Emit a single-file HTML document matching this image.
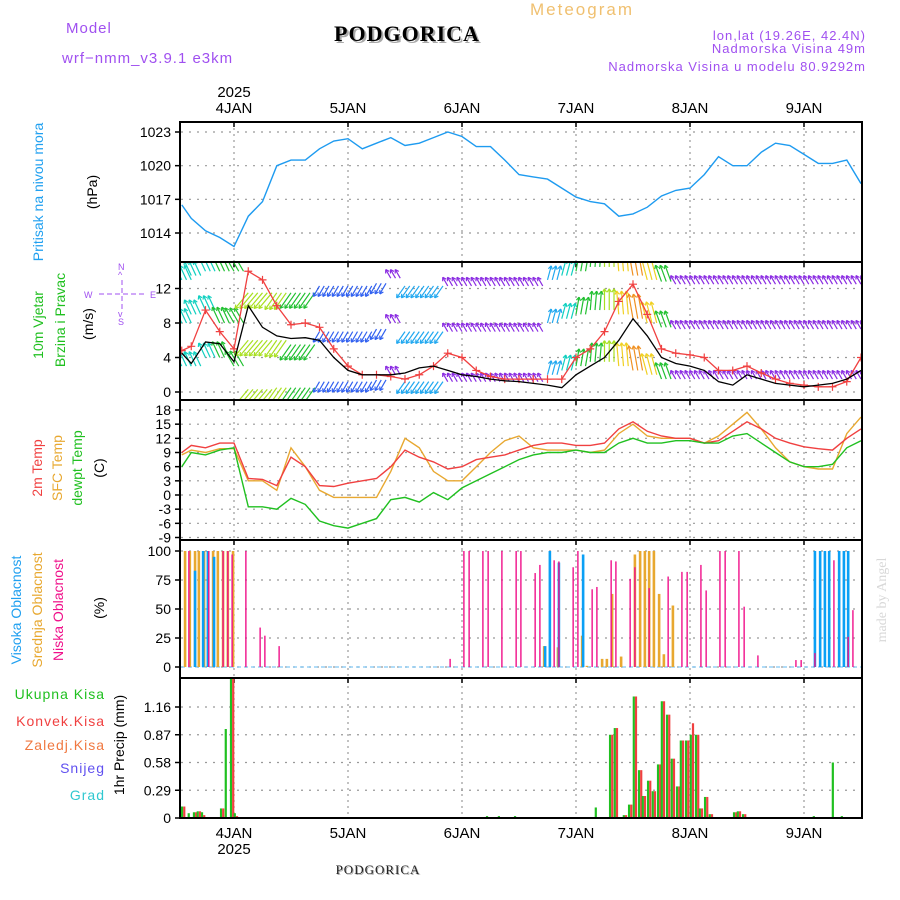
<!DOCTYPE html>
<html><head><meta charset="utf-8"><style>
html,body{margin:0;padding:0;background:#fff}
svg{display:block;font-family:"Liberation Sans",sans-serif}
</style></head><body>
<svg id="chart" width="900" height="900" viewBox="0 0 900 900">
<defs>
<clipPath id="cp1"><rect x="181" y="123" width="681" height="138"/></clipPath>
<clipPath id="cp2"><rect x="181" y="263" width="681" height="136"/></clipPath>
<clipPath id="cp3"><rect x="181" y="401" width="681" height="138"/></clipPath>
<clipPath id="cp4"><rect x="181" y="541" width="681" height="136"/></clipPath>
<clipPath id="cp5"><rect x="181" y="679" width="681" height="138"/></clipPath>
</defs>
<text x="66" y="33" font-size="15" fill="#a050f0" letter-spacing="1">Model</text>
<text x="62" y="63" font-size="15" fill="#a050f0" letter-spacing="1">wrf−nmm_v3.9.1  e3km</text>
<text x="409" y="43" font-size="22" font-weight="bold" font-family="Liberation Serif,serif" fill="#aaa" text-anchor="middle" letter-spacing="1">PODGORICA</text>
<text x="407" y="41" font-size="22" font-weight="bold" font-family="Liberation Serif,serif" fill="#000" text-anchor="middle" letter-spacing="1">PODGORICA</text>
<text x="582" y="15" font-size="17" fill="#f0c070" text-anchor="middle" letter-spacing="2">Meteogram</text>
<text x="866" y="40" font-size="13" fill="#a050f0" text-anchor="end" letter-spacing="1">lon,lat (19.26E, 42.4N)</text>
<text x="866" y="53" font-size="13" fill="#a050f0" text-anchor="end" letter-spacing="1">Nadmorska Visina 49m</text>
<text x="866" y="71" font-size="13" fill="#a050f0" text-anchor="end" letter-spacing="1">Nadmorska Visina u modelu 80.9292m</text>
<text x="234" y="97" font-size="15" fill="#000" text-anchor="middle">2025</text>
<text x="234" y="854" font-size="15" fill="#000" text-anchor="middle">2025</text>
<text x="379" y="875" font-size="13" font-family="Liberation Serif,serif" fill="#aaa" text-anchor="middle" letter-spacing="1">PODGORICA</text>
<text x="378" y="874" font-size="13" font-family="Liberation Serif,serif" fill="#222" text-anchor="middle" letter-spacing="1">PODGORICA</text>
<text transform="translate(886,600) rotate(-90)" font-size="14" font-family="Liberation Serif,serif" fill="#d8d8d8" text-anchor="middle">made by Angel</text>

<g font-size="14" text-anchor="middle">
<text transform="translate(43,192) rotate(-90)" fill="#20a0f0">Pritisak na nivou mora</text>
<text transform="translate(97,192) rotate(-90)" fill="#000">(hPa)</text>
<text transform="translate(43,325) rotate(-90)" fill="#20c020">10m Vjetar</text>
<text transform="translate(65,320) rotate(-90)" fill="#20c020">Brzina i Pravac</text>
<text transform="translate(93,324) rotate(-90)" fill="#000">(m/s)</text>
<text transform="translate(42,468) rotate(-90)" fill="#f04040">2m Temp</text>
<text transform="translate(62,468) rotate(-90)" fill="#e8a830">SFC Temp</text>
<text transform="translate(82,468) rotate(-90)" fill="#20c020">dewpt Temp</text>
<text transform="translate(104,468) rotate(-90)" fill="#000">(C)</text>
<text transform="translate(21,610) rotate(-90)" fill="#20a0f0">Visoka Oblacnost</text>
<text transform="translate(42,610) rotate(-90)" fill="#e8a830">Srednja Oblacnost</text>
<text transform="translate(63,610) rotate(-90)" fill="#f0108a">Niska Oblacnost</text>
<text transform="translate(104,608) rotate(-90)" fill="#000">(%)</text>
<text transform="translate(124,745) rotate(-90)" fill="#000">1hr Precip (mm)</text>
</g>
<g font-size="14" text-anchor="end" letter-spacing="1">
<text x="105" y="699" fill="#20c020">Ukupna  Kisa</text>
<text x="105" y="726" fill="#f04040">Konvek.Kisa</text>
<text x="105" y="750" fill="#f07840">Zaledj.Kisa</text>
<text x="105" y="773" fill="#6050f0">Snijeg</text>
<text x="105" y="800" fill="#30c8d0">Grad</text>
</g>
<g fill="#a050f0" font-size="9">
<text x="118" y="270">N</text><text x="118" y="278">^</text><text x="118" y="325">S</text><text x="118" y="317">v</text>
<text x="84" y="298">W</text><text x="150" y="298">E</text>
<line x1="99" y1="294" x2="145" y2="294" stroke="#a050f0" stroke-dasharray="5,3"/>
<line x1="122" y1="280" x2="122" y2="310" stroke="#a050f0" stroke-dasharray="5,3"/>
</g>
<g id="plots"></g>
</svg>
<script>
// ---- data (hours relative to 4 JAN 00 UTC) ----
var dayLabels = ["4JAN","5JAN","6JAN","7JAN","8JAN","9JAN"];
var dayHours = [0,24,48,72,96,120];
var hours = [-11,-9,-6,-3,0,3,6,9,12,15,18,21,24,27,30,33,36,39,42,45,48,51,54,57,60,63,66,69,72,75,78,81,84,87,90,93,96,99,102,105,108,111,114,117,120,123,126,129,132];
var pressure = [1016.5,1015.3,1014.2,1013.6,1012.8,1015.5,1016.8,1020,1020.5,1020.5,1021.5,1022.2,1022.4,1021.5,1022,1022.5,1021.8,1022,1022.5,1023,1022.6,1021.7,1021.7,1020.5,1019.2,1019,1018.8,1018,1017.2,1016.8,1016.6,1015.5,1015.7,1016.3,1017.3,1017.8,1018,1019.2,1020.8,1020,1020,1021.2,1022,1021.8,1021,1020.2,1020.2,1020.5,1018.4];
var pressTicks = [1014,1017,1020,1023];
var windSpeed = [4.5,3.3,5.8,5.6,3.5,10,7.5,6.5,6.2,6.3,6,4,2.5,2,2,2,2.2,2.8,3,2.5,2,1.8,1.5,1.3,1.2,1,0.8,0.5,2,3,4,6,8.5,6.5,4,3.3,3,2.5,1.2,0.8,2,1.5,1,0.8,0.6,0.8,1,1.5,2.5];
var windGust = [4.8,5.3,9.5,7,5,14,13,10,7.8,8,7.5,5,3,2,2,1.8,1.5,2,3,4.5,4,2.5,1.8,1.5,1.5,1.5,1.5,1.5,4,5,7,10.5,12.5,9,5,4.5,4.3,4,2.5,2.5,3,2.2,1.5,1,0.8,0.6,0.6,1.2,4];
var barbDir = [-25,-25,-25,-25,-30,220,220,215,215,215,210,210,210,210,210,330,215,215,215,330,330,330,330,330,330,330,15,15,10,5,0,-5,-10,-15,-20,330,330,330,330,330,330,330,330,330,330,330,330,330,330];
var barbSpeed = [6,6,6,7,7,9,9,9,8,8,3.5,3.5,3.5,3.5,3.5,2,5,5,5,2,2,2,2,2,2,2,5,6,7,8,9.5,11,12,10,7,2,2,2,2,2,2,2,2,2,2,2,2,2,2];
var rowHigh = [13,13.5,14,14,14,11.5,11.5,11.5,11.5,11.5,12.3,12.3,12.3,12.3,12.6,13.2,12.3,12.3,12.3,12.3,12.3,12.3,12.3,12.3,12.3,12.3,13,13.5,14,14.5,14.5,14,13.5,13,12.8,12.5,12.5,12.5,12.5,12.5,12.5,12.5,12.5,12.5,12.5,12.5,12.5,12.5,12.5];
var rowMid = [8,9,9.5,8,8,6,6,6,5.5,5.5,7,7,7,7,7.3,8,7,7,7,7,7,7,7,7,7,7,8,8.5,9,9.5,9.5,9,8.5,8,7.5,7.3,7.3,7.3,7.3,7.3,7.3,7.3,7.3,7.3,7.3,7.3,7.3,7.3,7.3];
var rowLow = [3,3,4,4,3,0.3,0.3,0.5,0.5,0.5,1.2,1.2,1.2,1.2,1.4,2,1.2,1.2,1.2,1.2,1.2,1.2,1.2,1.2,1.2,1.2,2,2.5,3,3.5,3.5,3,2.5,2,1.5,1.5,1.5,1.5,1.5,1.5,1.5,1.5,1.5,1.5,1.5,1.5,1.5,1.5,1.5];
var windTicks = [0,4,8,12];
var temp2m = [9,10.5,10,11,11,3.5,3.3,2,8,6,2,1.8,2.5,3,3.5,6,9.5,8,7,5.5,6,7.5,8,8.5,9.5,10.5,11,11,10.5,10.5,11,14,15.5,13.5,12.5,12,12,11,11.5,13.5,15.5,14,12,11,10.2,9.8,9.5,12,14];
var tempSfc = [8.5,9.5,9,9.8,9.8,3,3,1,10,6,1,-0.5,-0.5,-0.5,-0.5,5,12,10,5,3,3,6,9,11.5,12.5,10,9.5,9.5,9.5,9,9.5,13,15,12.5,12,12,12,11,12.5,15,17.5,14,10,7,6,5.5,5.5,13,16.5];
var tempDew = [6,9,8.5,9.5,10,-2.5,-2.5,-3,-0.7,-2,-5.5,-6.5,-7,-6,-5,-1,-0.5,-1.5,0.5,-1,1.5,3,4.5,6,7.5,8.5,9,9,9.5,9,9,11,12,11,11,11.5,11.5,11,11,12.5,13,11,9,7,6,6,6.5,10,11.5];
var tempTicks = [-9,-6,-3,0,3,6,9,12,15,18];
var lowCloudHours = [-9.5,-5.3,-2.3,-1.3,-0.4,2.5,5.5,6.5,9.5,45.5,48.4,49.5,52.4,53.5,56.4,59.4,60.4,63.4,64.4,67.4,68.4,71.4,72.4,75.4,76.4,79.4,80.4,83.4,84.4,87.4,91.4,94.3,95.4,98.3,99.4,102.3,103.4,106.3,107.4,110.3,118.3,119.4,122.3,126.3,129.3,130.3];
var lowCloud = [100,100,100,100,97,100,34,27,18,7,100,100,100,100,100,100,100,81,88,92,91,86,100,67,69,92,91,76,86,68,78,82,82,88,66,100,100,100,52,10,6,6,12,92,26,49];
var midCloudHours = [-10.3,-9.3,-8.2,-7.4,-6.3,-4.4,-3.4,-2.3,-1.3,-0.2,65.3,68.2,73.3,74.3,77.5,78.5,79.6,81.5,84.4,85.5,86.5,87.4,88.4,89.5,90.5,92.4];
var midCloud = [100,100,100,100,100,100,100,100,100,100,18,17,27,1,7,7,63,9,97,100,100,100,100,63,11,53];
var highCloudHours = [-8.2,-6.5,-5.5,-4.2,65.5,66.5,68.4,73.5,122.3,123.4,124.4,125.3,127.4,128.4,129.3];
var highCloud = [83,100,100,95,18,100,90,97,100,100,100,100,100,100,100];
var cloudTicks = [0,25,50,75,100];
var precipHours = [-10.7,-9.3,-8.2,-7.4,-6.5,-2.5,-1.5,-0.4,0.4,53.5,56,59.4,76.4,79.4,80.4,82.3,83.4,84.4,85.5,86.3,87.4,88.4,89.5,90.3,91.4,92.4,93.5,94.3,95.4,96.4,97.5,98.3,99.4,100.4,105.5,106.3,107.4,122.3,124.4,126.3,127.4,128.2];
var precipTotal = [0.12,0.05,0.06,0.07,0.06,0.1,0.93,1.5,0.05,0.02,0.02,0.02,0.11,0.87,0.94,0.03,0.14,1.27,0.5,0.23,0.39,0.28,0.56,1.22,1.08,0.62,0.33,0.81,0.81,0.87,0.87,0.1,0.22,0.04,0.06,0.07,0.04,0.02,0.01,0.58,0.01,0.02];
var precipConv = [0.12,0,0.06,0.07,0.03,0.1,0,1.5,0.02,0,0,0,0,0.87,0.94,0.03,0.14,1.27,0.5,0.23,0.39,0.28,0.56,1.22,1.08,0.62,0.33,0.81,0.81,0.99,0.87,0.1,0.22,0.04,0.06,0.07,0.04,0,0,0,0,0];
var precipTicks = [0,0.29,0.58,0.87,1.16];
var precipTickLabels = ["0","0.29","0.58","0.87","1.16"];

// ---- axes ----
var X0=181, X1=862;
function xs(h){ return 234 + h*4.75; }
function lin(v0,p0,v1,p1){ return function(v){ return p0+(v-v0)*(p1-p0)/(v1-v0); }; }
var yP = lin(1014,233,1023,132);
var yW = lin(0,392,12,288.5);
var yT = lin(0,495,18,410);
var yC = lin(0,667,100,551);
var yR = lin(0,818,1.16,707);
var panels = [[122,262],[262,400],[400,540],[540,678],[678,818]];

var NS="http://www.w3.org/2000/svg";
var root=document.getElementById('plots');
function mk(tag,attrs,parent){ var e=document.createElementNS(NS,tag); for(var k in attrs) e.setAttribute(k,attrs[k]); (parent||root).appendChild(e); return e; }
function path(xsArr,ysArr){ var d=''; for(var i=0;i<xsArr.length;i++) d+=(i?'L':'M')+xsArr[i].toFixed(1)+','+ysArr[i].toFixed(1); return d; }

function hgrid(ticks,yf,labels,name){
  for(var i=0;i<ticks.length;i++){
    var y=yf(ticks[i]);
    var g=mk('line',{x1:X0,x2:X1,y1:y,y2:y,stroke:'#999','stroke-dasharray':'2,6','stroke-width':1.2});
    
    
    mk('line',{x1:X0-6,x2:X0,y1:y,y2:y,stroke:'#000','stroke-width':1.5});
    var t=mk('text',{x:X0-10,y:y+5,'font-size':14,'text-anchor':'end',fill:'#000'});
    t.textContent = labels ? labels[i] : String(ticks[i]);
    
    
  }
}
hgrid(pressTicks,yP,null,'pressure');
hgrid(windTicks,yW,null,'wind');
hgrid(tempTicks,yT,null,'temp');
hgrid(cloudTicks,yC,null,'cloud');
hgrid(precipTicks,yR,precipTickLabels,'precip');
for(var d=0; d<dayHours.length; d++){
  var x=xs(dayHours[d]);
  var vl=mk('line',{x1:x,x2:x,y1:122,y2:818,stroke:'#999','stroke-dasharray':'2,4','stroke-width':1.2});
  
  
  for(var p=0;p<panels.length;p++){
    mk('line',{x1:x,x2:x,y1:panels[p][0],y2:panels[p][0]+5,stroke:'#000','stroke-width':1.5});
  }
  var t1=mk('text',{x:x,y:113,'font-size':15,'text-anchor':'middle',fill:'#000'});
  t1.textContent=dayLabels[d];
  
  
  var t2=mk('text',{x:x,y:838,'font-size':15,'text-anchor':'middle',fill:'#000'});
  t2.textContent=dayLabels[d];
  
  
}

// pressure
var hx = hours.map(xs);
var pl=mk('path',{d:path(hx,pressure.map(yP)),fill:'none',stroke:'#1e9bf0','stroke-width':1.4,'clip-path':'url(#cp1)'});



// wind barbs
var gW=mk('g',{'clip-path':'url(#cp2)'});


function spdColor(s){ if(s<2.5) return '#8a2be2'; if(s<4) return '#3060f0'; if(s<5.5) return '#20a8f0'; if(s<7) return '#10d0c0'; if(s<8.5) return '#20c030'; if(s<10) return '#a8e020'; if(s<11.5) return '#f0d020'; return '#f09020'; }
var rows=[rowHigh,rowMid,rowLow];
for(var i=0;i<hours.length;i++){
  var a=barbDir[i]*Math.PI/180, c=spdColor(barbSpeed[i]);
  var L=7+barbSpeed[i]*1.5;
  for(var r=0;r<3;r++){
    for(var k=0;k<3;k++){
      var bx=hx[i]+k*4.75, by=yW(rows[r][i]);
      var ex=bx+Math.sin(a)*L, ey=by-Math.cos(a)*L;
      mk('line',{x1:bx,y1:by,x2:ex,y2:ey,stroke:c,'stroke-width':1.2},gW);
      mk('line',{x1:ex,y1:ey,x2:ex+Math.sin(a+2.6)*4,y2:ey-Math.cos(a+2.6)*4,stroke:c,'stroke-width':1.2},gW);
      mk('line',{x1:ex,y1:ey,x2:ex+Math.sin(a-2.6)*4,y2:ey-Math.cos(a-2.6)*4,stroke:c,'stroke-width':1.2},gW);
    }
  }
}
var gl=mk('path',{d:path(hx,windGust.map(yW)),fill:'none',stroke:'#f04040','stroke-width':1.3,'clip-path':'url(#cp2)'});


for(var i=0;i<hours.length;i++){
  var px=hx[i], py=yW(windGust[i]);
  var mkr=mk('path',{d:'M'+(px-4)+','+py+'h8M'+px+','+(py-4)+'v8',stroke:'#f04040','stroke-width':1.2,'clip-path':'url(#cp2)'});
  
  
}
var sl=mk('path',{d:path(hx,windSpeed.map(yW)),fill:'none',stroke:'#000','stroke-width':1.3,'clip-path':'url(#cp2)'});



// temperatures
var l1=mk('path',{d:path(hx,tempSfc.map(yT)),fill:'none',stroke:'#e8a830','stroke-width':1.4,'clip-path':'url(#cp3)'});


var l2=mk('path',{d:path(hx,temp2m.map(yT)),fill:'none',stroke:'#f04040','stroke-width':1.4,'clip-path':'url(#cp3)'});


var l3=mk('path',{d:path(hx,tempDew.map(yT)),fill:'none',stroke:'#20c020','stroke-width':1.4,'clip-path':'url(#cp3)'});



// clouds
var zc=mk('line',{x1:X0,x2:X1,y1:yC(0),y2:yC(0),stroke:'#60b8f0','stroke-width':1,'stroke-dasharray':'4,3'});


function cloudBars(hs,vals,color,w,off,name){
  for(var i=0;i<hs.length;i++){
    var x=xs(hs[i])+off, y=yC(vals[i]);
    var b=mk('rect',{x:x-w/2,y:y,width:w,height:yC(0)-y,fill:color,'clip-path':'url(#cp4)'});
    
    
  }
}
cloudBars(midCloudHours,midCloud,'#e8a830',2.6,0,'mid-cloud-bar');
cloudBars(highCloudHours,highCloud,'#0aa0f5',2.6,0,'high-cloud-bar');
cloudBars(lowCloudHours,lowCloud,'#f0108a',1.4,0,'low-cloud-bar');

// precip
var zp=mk('line',{x1:X0,x2:X1,y1:yR(0),y2:yR(0),stroke:'#000','stroke-width':1.5,'stroke-dasharray':'6,3'});


for(var i=0;i<precipHours.length;i++){
  var x=xs(precipHours[i]);
  var yt=yR(precipTotal[i]);
  var bt=mk('rect',{x:x-2.2,y:yt,width:2.2,height:yR(0)-yt,fill:'#20c020','clip-path':'url(#cp5)'});
  
  
  if(precipConv[i]>0){
    var yc=yR(precipConv[i]);
    var bc=mk('rect',{x:x,y:yc,width:2.2,height:yR(0)-yc,fill:'#f04040','clip-path':'url(#cp5)'});
    
    
  }
}

// panel borders
for(var p=0;p<panels.length;p++){
  var fr=mk('rect',{x:X0-1,y:panels[p][0],width:X1-X0+1,height:panels[p][1]-panels[p][0],fill:'none',stroke:'#000','stroke-width':2});
  
  
}
</script>
</body></html>
